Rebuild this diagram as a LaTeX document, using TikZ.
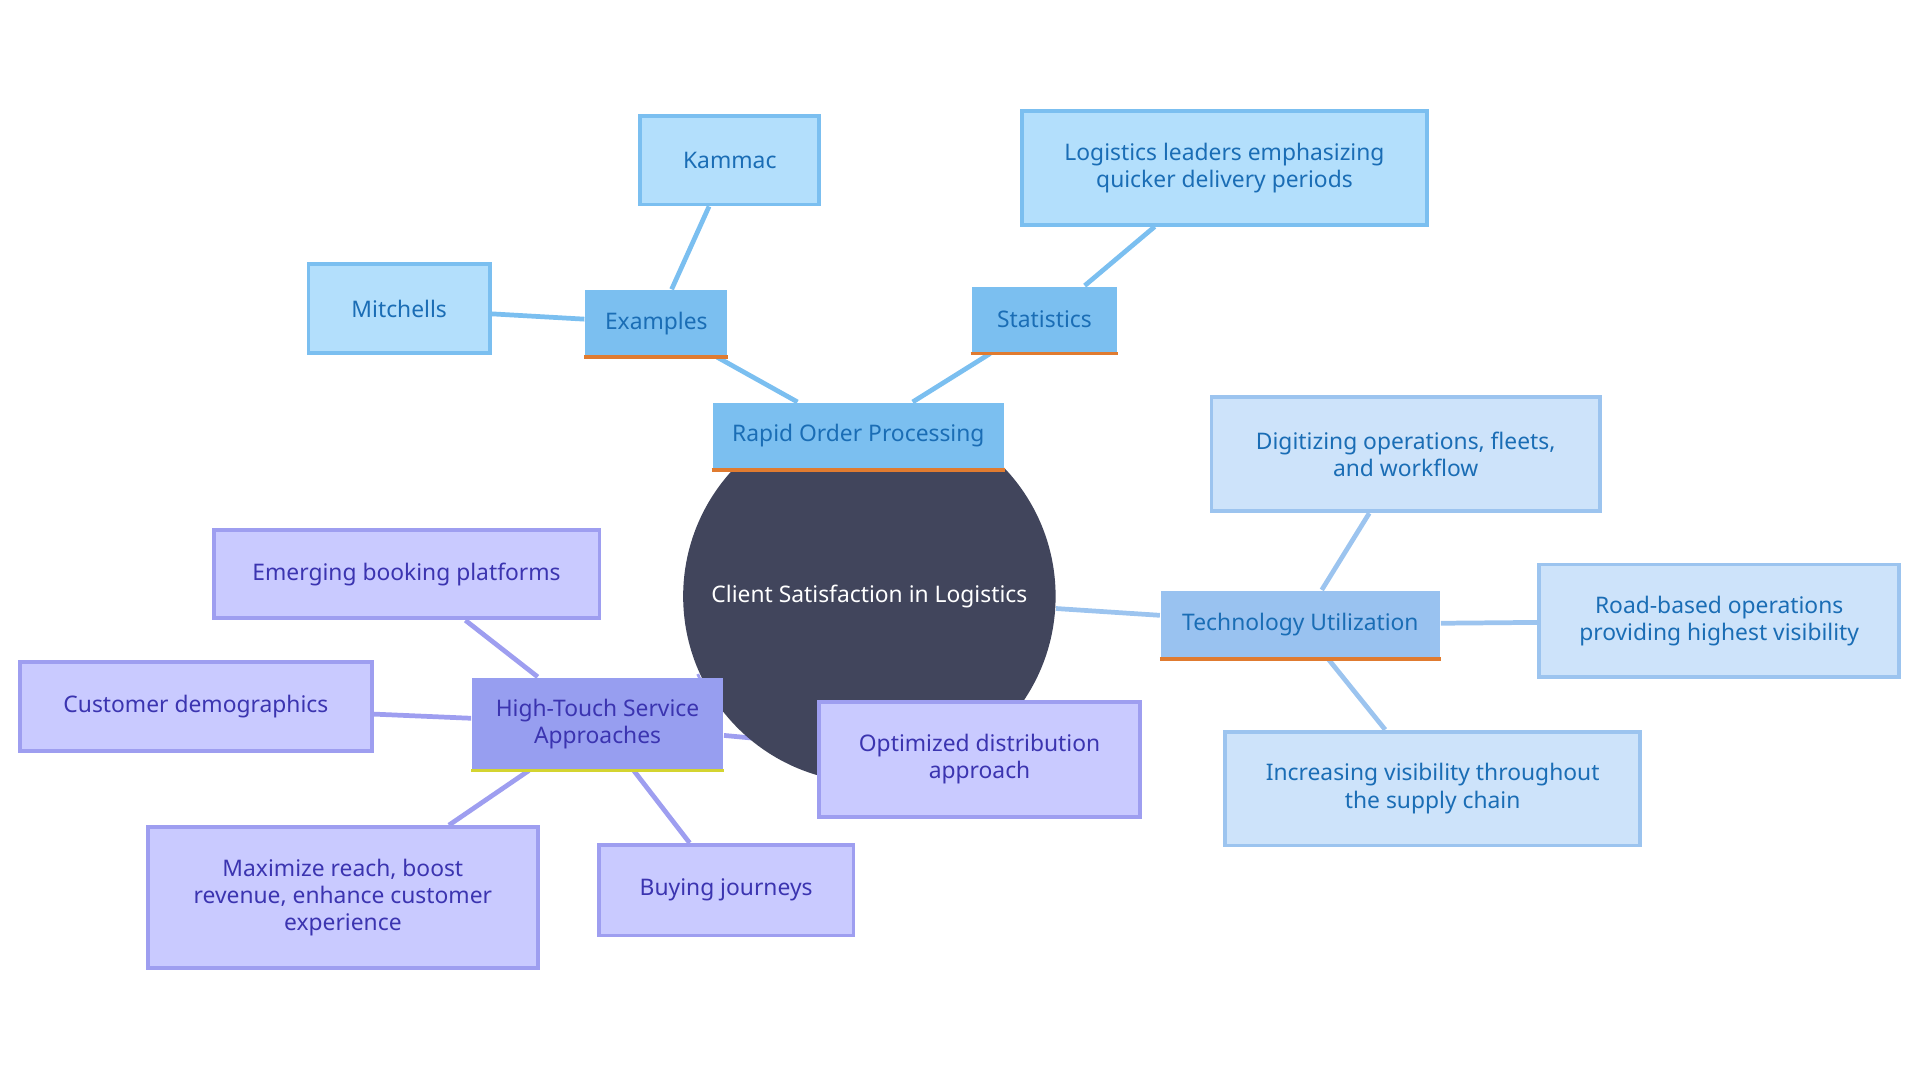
\documentclass[tikz,border=0pt]{standalone}
\usepackage{fontspec}
\setmainfont{Noto Sans}
\usetikzlibrary{backgrounds}
\definecolor{rootfill}{HTML}{41455C}
\definecolor{skyA}{HTML}{7BBFF0}
\definecolor{skyB}{HTML}{B3DFFC}
\definecolor{skyText}{HTML}{1A6DB5}
\definecolor{techA}{HTML}{99C2F0}
\definecolor{techB}{HTML}{CDE3FA}
\definecolor{techLine}{HTML}{9CC4EF}
\definecolor{purA}{HTML}{979EF0}
\definecolor{purB}{HTML}{C9CAFF}
\definecolor{purLine}{HTML}{9E9EF0}
\definecolor{purText}{HTML}{3B34B0}
\definecolor{accOrange}{HTML}{E07B30}
\definecolor{accYellow}{HTML}{D4D430}
\tikzset{
  box/.style={rectangle, inner sep=0pt, align=center, font=\fontsize{5.3}{6.3}\selectfont},
  sky/.style={box, fill=skyA, text=skyText},
  skyleaf/.style={box, fill=skyB, draw=skyA, line width=0.9pt, text=skyText},
  tech/.style={box, fill=techA, text=skyText},
  techleaf/.style={box, fill=techB, draw=techLine, line width=0.9pt, text=skyText},
  pur/.style={box, fill=purA, text=purText},
  purleaf/.style={box, fill=purB, draw=purLine, line width=0.9pt, text=purText},
  link/.style={line width=1.1pt},
  bar/.style={line width=0.9pt}
}
\begin{document}
\begin{tikzpicture}[x=0.01cm, y=-0.01cm]
    \useasboundingbox (0,0) rectangle (1568,882);
    % Nodes
    \node (root) [circle, fill=rootfill, text=white, minimum size=3.04cm, inner sep=0pt, font=\fontsize{5.3}{6.3}\selectfont] at (710,487) {Client Satisfaction in Logistics};
    \node (rop) [sky, minimum width=2.38cm, minimum height=0.54cm] at (701,356) {Rapid Order Processing};
    \node (examples) [sky, minimum width=1.16cm, minimum height=0.54cm] at (536,264) {Examples};
    \node (stats) [sky, minimum width=1.19cm, minimum height=0.54cm] at (853,261) {Statistics};
    \node (kammac) [skyleaf, minimum width=1.46cm, minimum height=0.72cm] at (596,131) {Kammac};
    \node (mitchells) [skyleaf, minimum width=1.48cm, minimum height=0.73cm] at (326,252) {Mitchells};
    \node (leaders) [skyleaf, minimum width=3.31cm, minimum height=0.93cm] at (1000,137) {Logistics leaders emphasizing\\quicker delivery periods};
    \node (tech) [tech, minimum width=2.28cm, minimum height=0.55cm] at (1062,510) {Technology Utilization};
    \node (digit) [techleaf, minimum width=3.17cm, minimum height=0.93cm] at (1148,371) {Digitizing operations, fleets,\\and workflow};
    \node (road) [techleaf, minimum width=2.94cm, minimum height=0.92cm] at (1404,507) {Road-based operations\\providing highest visibility};
    \node (visib) [techleaf, minimum width=3.39cm, minimum height=0.93cm] at (1170,644) {Increasing visibility throughout\\the supply chain};
    \node (htouch) [pur, minimum width=2.05cm, minimum height=0.75cm] at (488,591) {High-Touch Service\\Approaches};
    \node (booking) [purleaf, minimum width=3.15cm, minimum height=0.72cm] at (332,469) {Emerging booking platforms};
    \node (demo) [purleaf, minimum width=2.87cm, minimum height=0.72cm] at (160,577) {Customer demographics};
    \node (distrib) [purleaf, minimum width=2.62cm, minimum height=0.94cm] at (800,620) {Optimized distribution\\approach};
    \node (reach) [purleaf, minimum width=3.18cm, minimum height=1.15cm] at (280,733) {Maximize reach, boost\\revenue, enhance customer\\experience};
    \node (buying) [purleaf, minimum width=2.08cm, minimum height=0.74cm] at (593,727) {Buying journeys};

    % Accent bars
    \draw[bar, accOrange] (rop.south west) -- (rop.south east);
    \draw[bar, accOrange] (examples.south west) -- (examples.south east);
    \draw[bar, accOrange] (stats.south west) -- (stats.south east);
    \draw[bar, accOrange] (tech.south west) -- (tech.south east);
    \draw[bar, accYellow] (htouch.south west) -- (htouch.south east);

    % Edges
    \begin{pgfonlayer}{background}
    \draw[link, skyA] (root) -- (rop);
    \draw[link, skyA] (rop) -- (examples);
    \draw[link, skyA] (rop) -- (stats);
    \draw[link, skyA] (examples) -- (kammac);
    \draw[link, skyA] (examples) -- (mitchells);
    \draw[link, skyA] (stats) -- (leaders);
    \draw[link, techLine] (root) -- (tech);
    \draw[link, techLine] (tech) -- (digit);
    \draw[link, techLine] (tech) -- (road);
    \draw[link, techLine] (tech) -- (visib);
    \draw[link, purLine] (root) -- (htouch);
    \draw[link, purLine] (htouch) -- (booking);
    \draw[link, purLine] (htouch) -- (demo);
    \draw[link, purLine] (htouch) -- (distrib);
    \draw[link, purLine] (htouch) -- (reach);
    \draw[link, purLine] (htouch) -- (buying);
    \end{pgfonlayer}
\end{tikzpicture}
\end{document}
